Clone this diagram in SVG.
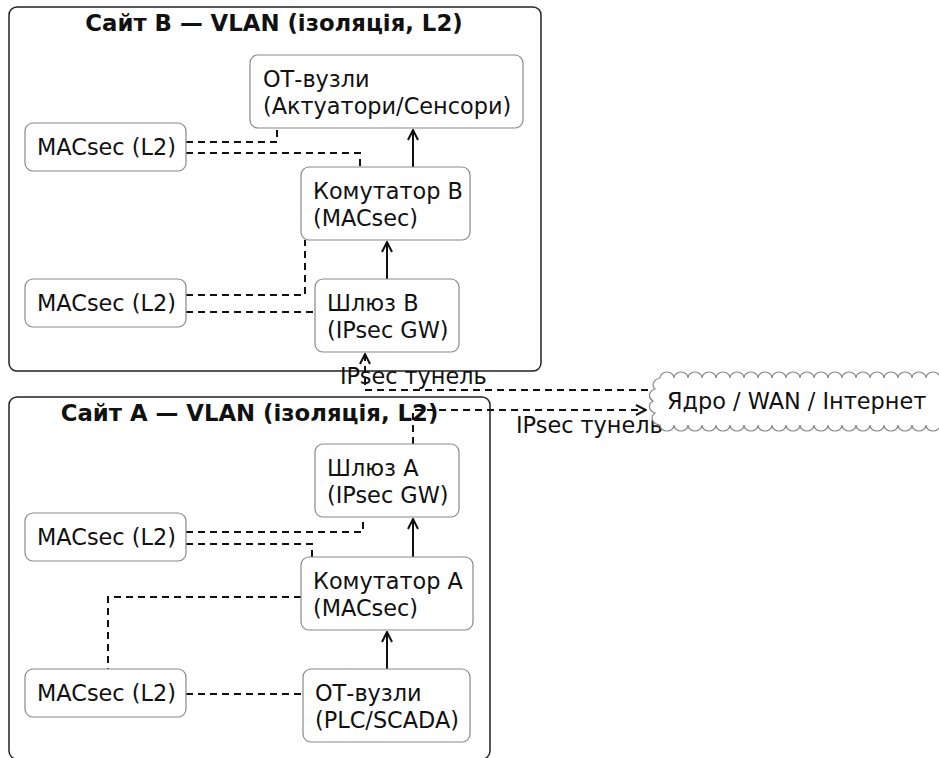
<svg xmlns="http://www.w3.org/2000/svg" width="939" height="758" viewBox="0 0 939 758">
  <style>
    text { font-family: "DejaVu Sans", "Noto Sans", sans-serif; font-size: 22.4px; fill: #111; }
    .title { font-weight: bold; font-size: 22.8px; text-anchor: middle; }
    .cluster { fill: none; stroke: #222; stroke-width: 1.5; }
    .node rect, .cloud { fill: #fff; stroke: #888; stroke-width: 1.2; }
    .solid { fill: none; stroke: #111; stroke-width: 2; }
    .dash { fill: none; stroke: #111; stroke-width: 2; stroke-dasharray: 7 5; }
  </style>
  <defs>
    <marker id="arrow" viewBox="0 0 12 12" refX="11" refY="6" markerWidth="12" markerHeight="12" markerUnits="userSpaceOnUse" orient="auto">
      <path d="M1,1 L11,6 L1,11" fill="none" stroke="#111" stroke-width="2"/>
    </marker>
  </defs>

  <rect fill="#fff" x="0" y="0" width="939" height="758"/>

  <!-- Site B -->
  <g id="siteB">
    <rect class="cluster" x="9" y="7" width="532" height="364" rx="8"/>
    <text class="title" x="274" y="31">Сайт B — VLAN (ізоляція, L2)</text>
  </g>
  <!-- Site A -->
  <g id="siteA">
    <rect class="cluster" x="9" y="397" width="481" height="362" rx="8"/>
    <text class="title" x="249.5" y="421">Сайт A — VLAN (ізоляція, L2)</text>
  </g>

  <!-- connectors -->
  <g id="connectors">
    <path class="solid" d="M413,167 V130" marker-end="url(#arrow)"/>
    <path class="solid" d="M387,279 V242" marker-end="url(#arrow)"/>
    <path class="dash" d="M186,142 H277 V128"/>
    <path class="dash" d="M186,153 H360 V167"/>
    <path class="dash" d="M186,295 H305 V240"/>
    <path class="dash" d="M186,312 H315"/>

    <path class="dash" d="M648,390 H365 V354" marker-end="url(#arrow)"/>
    <text x="340" y="384">IPsec тунель</text>
    <path class="dash" d="M413,444 V410 H646" marker-end="url(#arrow)"/>
    <text x="516" y="433">IPsec тунель</text>

    <path class="solid" d="M413,557 V519" marker-end="url(#arrow)"/>
    <path class="solid" d="M387,669 V632" marker-end="url(#arrow)"/>
    <path class="dash" d="M186,532 H363 V517"/>
    <path class="dash" d="M186,544 H312 V557"/>
    <path class="dash" d="M301,597 H108 V669"/>
    <path class="dash" d="M186,694 H303"/>
  </g>

  <!-- Site B nodes -->
  <g id="otB" class="node">
    <rect x="250" y="55" width="273" height="73" rx="8"/>
    <text x="263" y="87">ОТ-вузли</text>
    <text x="263" y="114">(Актуатори/Сенсори)</text>
  </g>
  <g id="switchB" class="node">
    <rect x="301" y="167" width="169" height="73" rx="8"/>
    <text x="313" y="199">Комутатор B</text>
    <text x="313" y="226">(MACsec)</text>
  </g>
  <g id="gwB" class="node">
    <rect x="315" y="279" width="144" height="73" rx="8"/>
    <text x="327" y="311">Шлюз B</text>
    <text x="327" y="338">(IPsec GW)</text>
  </g>
  <g id="macsecB1" class="node">
    <rect x="25" y="123" width="161" height="48" rx="8"/>
    <text x="37" y="155">MACsec (L2)</text>
  </g>
  <g id="macsecB2" class="node">
    <rect x="25" y="279" width="161" height="48" rx="8"/>
    <text x="37" y="311">MACsec (L2)</text>
  </g>

  <!-- WAN cloud -->
  <g id="wan">
    <path class="cloud" d="M660,378
      a7,6 0 0 1 14,0 a7,6 0 0 1 14,0 a7,6 0 0 1 14,0 a7,6 0 0 1 14,0 a7,6 0 0 1 14,0
      a7,6 0 0 1 14,0 a7,6 0 0 1 14,0 a7,6 0 0 1 14,0 a7,6 0 0 1 14,0 a7,6 0 0 1 14,0
      a7,6 0 0 1 14,0 a7,6 0 0 1 14,0 a7,6 0 0 1 14,0 a7,6 0 0 1 14,0 a7,6 0 0 1 14,0
      a7,6 0 0 1 14,0 a7,6 0 0 1 14,0 a7,6 0 0 1 14,0 a7,6 0 0 1 14,0 a7,6 0 0 1 14,0
      V425
      a7,6 0 0 1 -14,0 a7,6 0 0 1 -14,0 a7,6 0 0 1 -14,0 a7,6 0 0 1 -14,0 a7,6 0 0 1 -14,0
      a7,6 0 0 1 -14,0 a7,6 0 0 1 -14,0 a7,6 0 0 1 -14,0 a7,6 0 0 1 -14,0 a7,6 0 0 1 -14,0
      a7,6 0 0 1 -14,0 a7,6 0 0 1 -14,0 a7,6 0 0 1 -14,0 a7,6 0 0 1 -14,0 a7,6 0 0 1 -14,0
      a7,6 0 0 1 -14,0 a7,6 0 0 1 -14,0 a7,6 0 0 1 -14,0 a7,6 0 0 1 -14,0 a7,6 0 0 1 -14,0
      a9,7 0 0 1 -5,-12 a9,7 0 0 1 -2,-12 a9,7 0 0 1 2,-12 a9,7 0 0 1 5,-11 Z"/>
    <text x="667" y="409">Ядро / WAN / Інтернет</text>
  </g>

  <!-- Site A nodes -->
  <g id="gwA" class="node">
    <rect x="315" y="444" width="144" height="73" rx="8"/>
    <text x="327" y="476">Шлюз A</text>
    <text x="327" y="503">(IPsec GW)</text>
  </g>
  <g id="switchA" class="node">
    <rect x="301" y="557" width="172" height="73" rx="8"/>
    <text x="313" y="589">Комутатор A</text>
    <text x="313" y="616">(MACsec)</text>
  </g>
  <g id="otA" class="node">
    <rect x="303" y="669" width="167" height="73" rx="8"/>
    <text x="315" y="701">ОТ-вузли</text>
    <text x="315" y="728">(PLC/SCADA)</text>
  </g>
  <g id="macsecA1" class="node">
    <rect x="25" y="513" width="161" height="48" rx="8"/>
    <text x="37" y="545">MACsec (L2)</text>
  </g>
  <g id="macsecA2" class="node">
    <rect x="25" y="669" width="161" height="48" rx="8"/>
    <text x="37" y="701">MACsec (L2)</text>
  </g>
</svg>
